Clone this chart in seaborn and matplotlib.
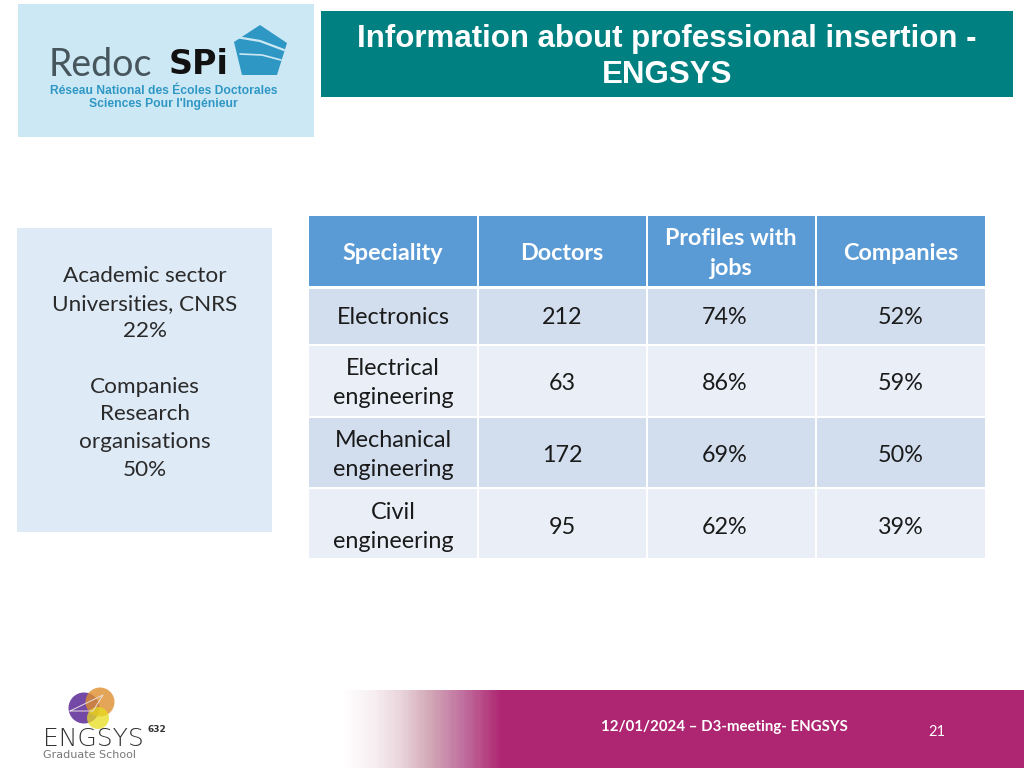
import matplotlib
matplotlib.use("Agg")
import matplotlib.pyplot as plt
from matplotlib.colors import LinearSegmentedColormap
from matplotlib.patches import Circle, Polygon, Rectangle
import numpy as np
import seaborn as sns

W, H = 1024, 768

header = ["Speciality", "Doctors", "Profiles with\njobs", "Companies"]
speciality = ["Electronics", "Electrical\nengineering", "Mechanical\nengineering", "Civil\nengineering"]
doctors = [212, 63, 172, 95]
profiles_with_jobs = ["74%", "86%", "69%", "62%"]
companies = ["52%", "59%", "50%", "39%"]
sector_lines = ["Academic sector", "Universities, CNRS", "22%", "", "Companies", "Research", "organisations", "50%"]

title = "Information about professional insertion -\nENGSYS"
footer_text = "12/01/2024 \u2013 D3-meeting- ENGSYS"
page_number = "21"

# table layout in pixels
row_tops = [216, 289, 346, 418, 489]
row_bottoms = [286, 344, 416, 487, 558]
col_centers = [393, 562, 731, 901]
body_centers = [393, 562, 725, 901]
row_centers = [318, 383, 455, 527]

sns.set_theme(style="white")
plt.rcParams["font.family"] = ["Lato", "DejaVu Sans"]

fig = plt.figure(figsize=(W / 100, H / 100), dpi=100, facecolor="white")


def px_axes(x0, y0, x1, y1):
    # axes placed with pixel coordinates, y measured from the top
    a = fig.add_axes([x0 / W, 1 - y1 / H, (x1 - x0) / W, (y1 - y0) / H])
    a.set_axis_off()
    return a


# table rows, one heatmap per row so the white gaps stay as in the slide
band_colors = ["#5B9BD5", "#D2DEEE", "#EAEFF7", "#D2DEEE", "#EAEFF7"]
for top, bottom, color in zip(row_tops, row_bottoms, band_colors):
    row_ax = px_axes(309, top, 985, bottom)
    sns.heatmap(np.zeros((1, 4)), ax=row_ax, cmap=[color], cbar=False,
                xticklabels=False, yticklabels=False)
    row_ax.set_axis_off()
    for col in [1, 2, 3]:
        row_ax.axvline(col, color="white", lw=1.4)

# overlay in pixel space for everything else
ax = fig.add_axes([0, 0, 1, 1], facecolor="none")
ax.set_xlim(0, W)
ax.set_ylim(H, 0)
ax.set_axis_off()
ax.set_zorder(5)

# header and body text
for x, label in zip(col_centers, header):
    ax.text(x, 253.5, label, color="white", fontsize=16.8, fontweight="bold",
            ha="center", va="center", linespacing=1.5)
for i, y in enumerate(row_centers):
    cells = [speciality[i], doctors[i], profiles_with_jobs[i], companies[i]]
    for x, cell in zip(body_centers, cells):
        ax.text(x, y, str(cell), color="#1A1A1A", fontsize=16.8, ha="center",
                va="center", linespacing=1.5)

# title bar
ax.add_patch(Rectangle((321, 11), 692, 86, color="#008080", lw=0))
ax.text(667, 57, title, color="white", fontsize=22.5, fontweight="bold", family="Liberation Sans",
        ha="center", va="center", linespacing=1.3)

# side box
ax.add_patch(Rectangle((17, 228), 255, 304, color="#DEEAF6", lw=0))
for i, line in enumerate(sector_lines):
    ax.text(145, 282 + i * 27.7, line, color="#2A2A2A", fontsize=16.2, ha="center", va="baseline")

# Redoc SPI logo
ax.add_patch(Rectangle((18, 4), 296, 133, color="#CDE8F5", lw=0))
ax.text(49, 65, "Redoc", color="#46565C", fontsize=27, ha="left", va="center")
ax.text(169, 64, "SPi", color="#111111", fontsize=24, fontweight="bold", family="DejaVu Sans",
        ha="left", va="center")
ax.add_patch(Polygon([(234, 42), (260, 25), (287, 43), (277, 75), (242, 75)], color="#2F97C4", lw=0))
ax.plot([236, 260, 284], [37, 41, 50], color="#CDE8F5", lw=1.6)
ax.plot([240, 262, 281], [54, 55, 60], color="#CDE8F5", lw=1.2)
ax.text(164, 91, "R\u00e9seau National des \u00c9coles Doctorales", color="#2F97C4", fontsize=8.7,
        fontweight="bold", family="Liberation Sans", ha="center", va="center")
ax.text(163, 104, "Sciences Pour l'Ing\u00e9nieur", color="#2F97C4", fontsize=8.7,
        fontweight="bold", family="Liberation Sans", ha="center", va="center")

# footer gradient, white to magenta
footer_cmap = LinearSegmentedColormap.from_list(
    "footer", [(0, "#FFFFFF"), (0.05, "#F6EDF0"), (0.088, "#E8D3DA"), (0.13, "#D2A7B6"),
               (0.175, "#C173A0"), (0.234, "#AE2672"), (1, "#AE2672")])
grad_ax = px_axes(340, 690, 1024, 768)
sns.heatmap(np.linspace(0, 1, 342).reshape(1, -1), ax=grad_ax, cmap=footer_cmap, cbar=False,
            xticklabels=False, yticklabels=False, rasterized=True)
grad_ax.set_axis_off()
ax.text(724.5, 727, footer_text, color="white", fontsize=10.8, fontweight="bold", ha="center", va="center")
ax.text(937, 731.5, page_number, color="white", fontsize=10.5, ha="center", va="center")

# ENGSYS logo
ax.add_patch(Circle((84, 708), 15.5, color="#6B3FA0", alpha=0.95, lw=0))
ax.add_patch(Circle((100, 702), 14.5, color="#DE8F2E", alpha=0.8, lw=0))
ax.add_patch(Circle((98, 718), 11, color="#E8DC1E", alpha=0.75, lw=0))
ax.plot([70, 103, 93, 70], [711, 695, 711, 711], color="#E8E0E0", lw=0.7)
ax.text(43, 745.5, "ENGSYS", color="#333333", fontsize=18, fontweight="light", family="DejaVu Sans",
        va="baseline", ha="left")
ax.text(147, 730, "632", color="#333333", fontsize=6.5, fontweight="bold", family="DejaVu Sans",
        ha="left", va="center")
ax.text(43, 755, "Graduate School", color="#777777", fontsize=8, family="DejaVu Sans",
        ha="left", va="center")

fig.savefig("out.png", dpi=100)
